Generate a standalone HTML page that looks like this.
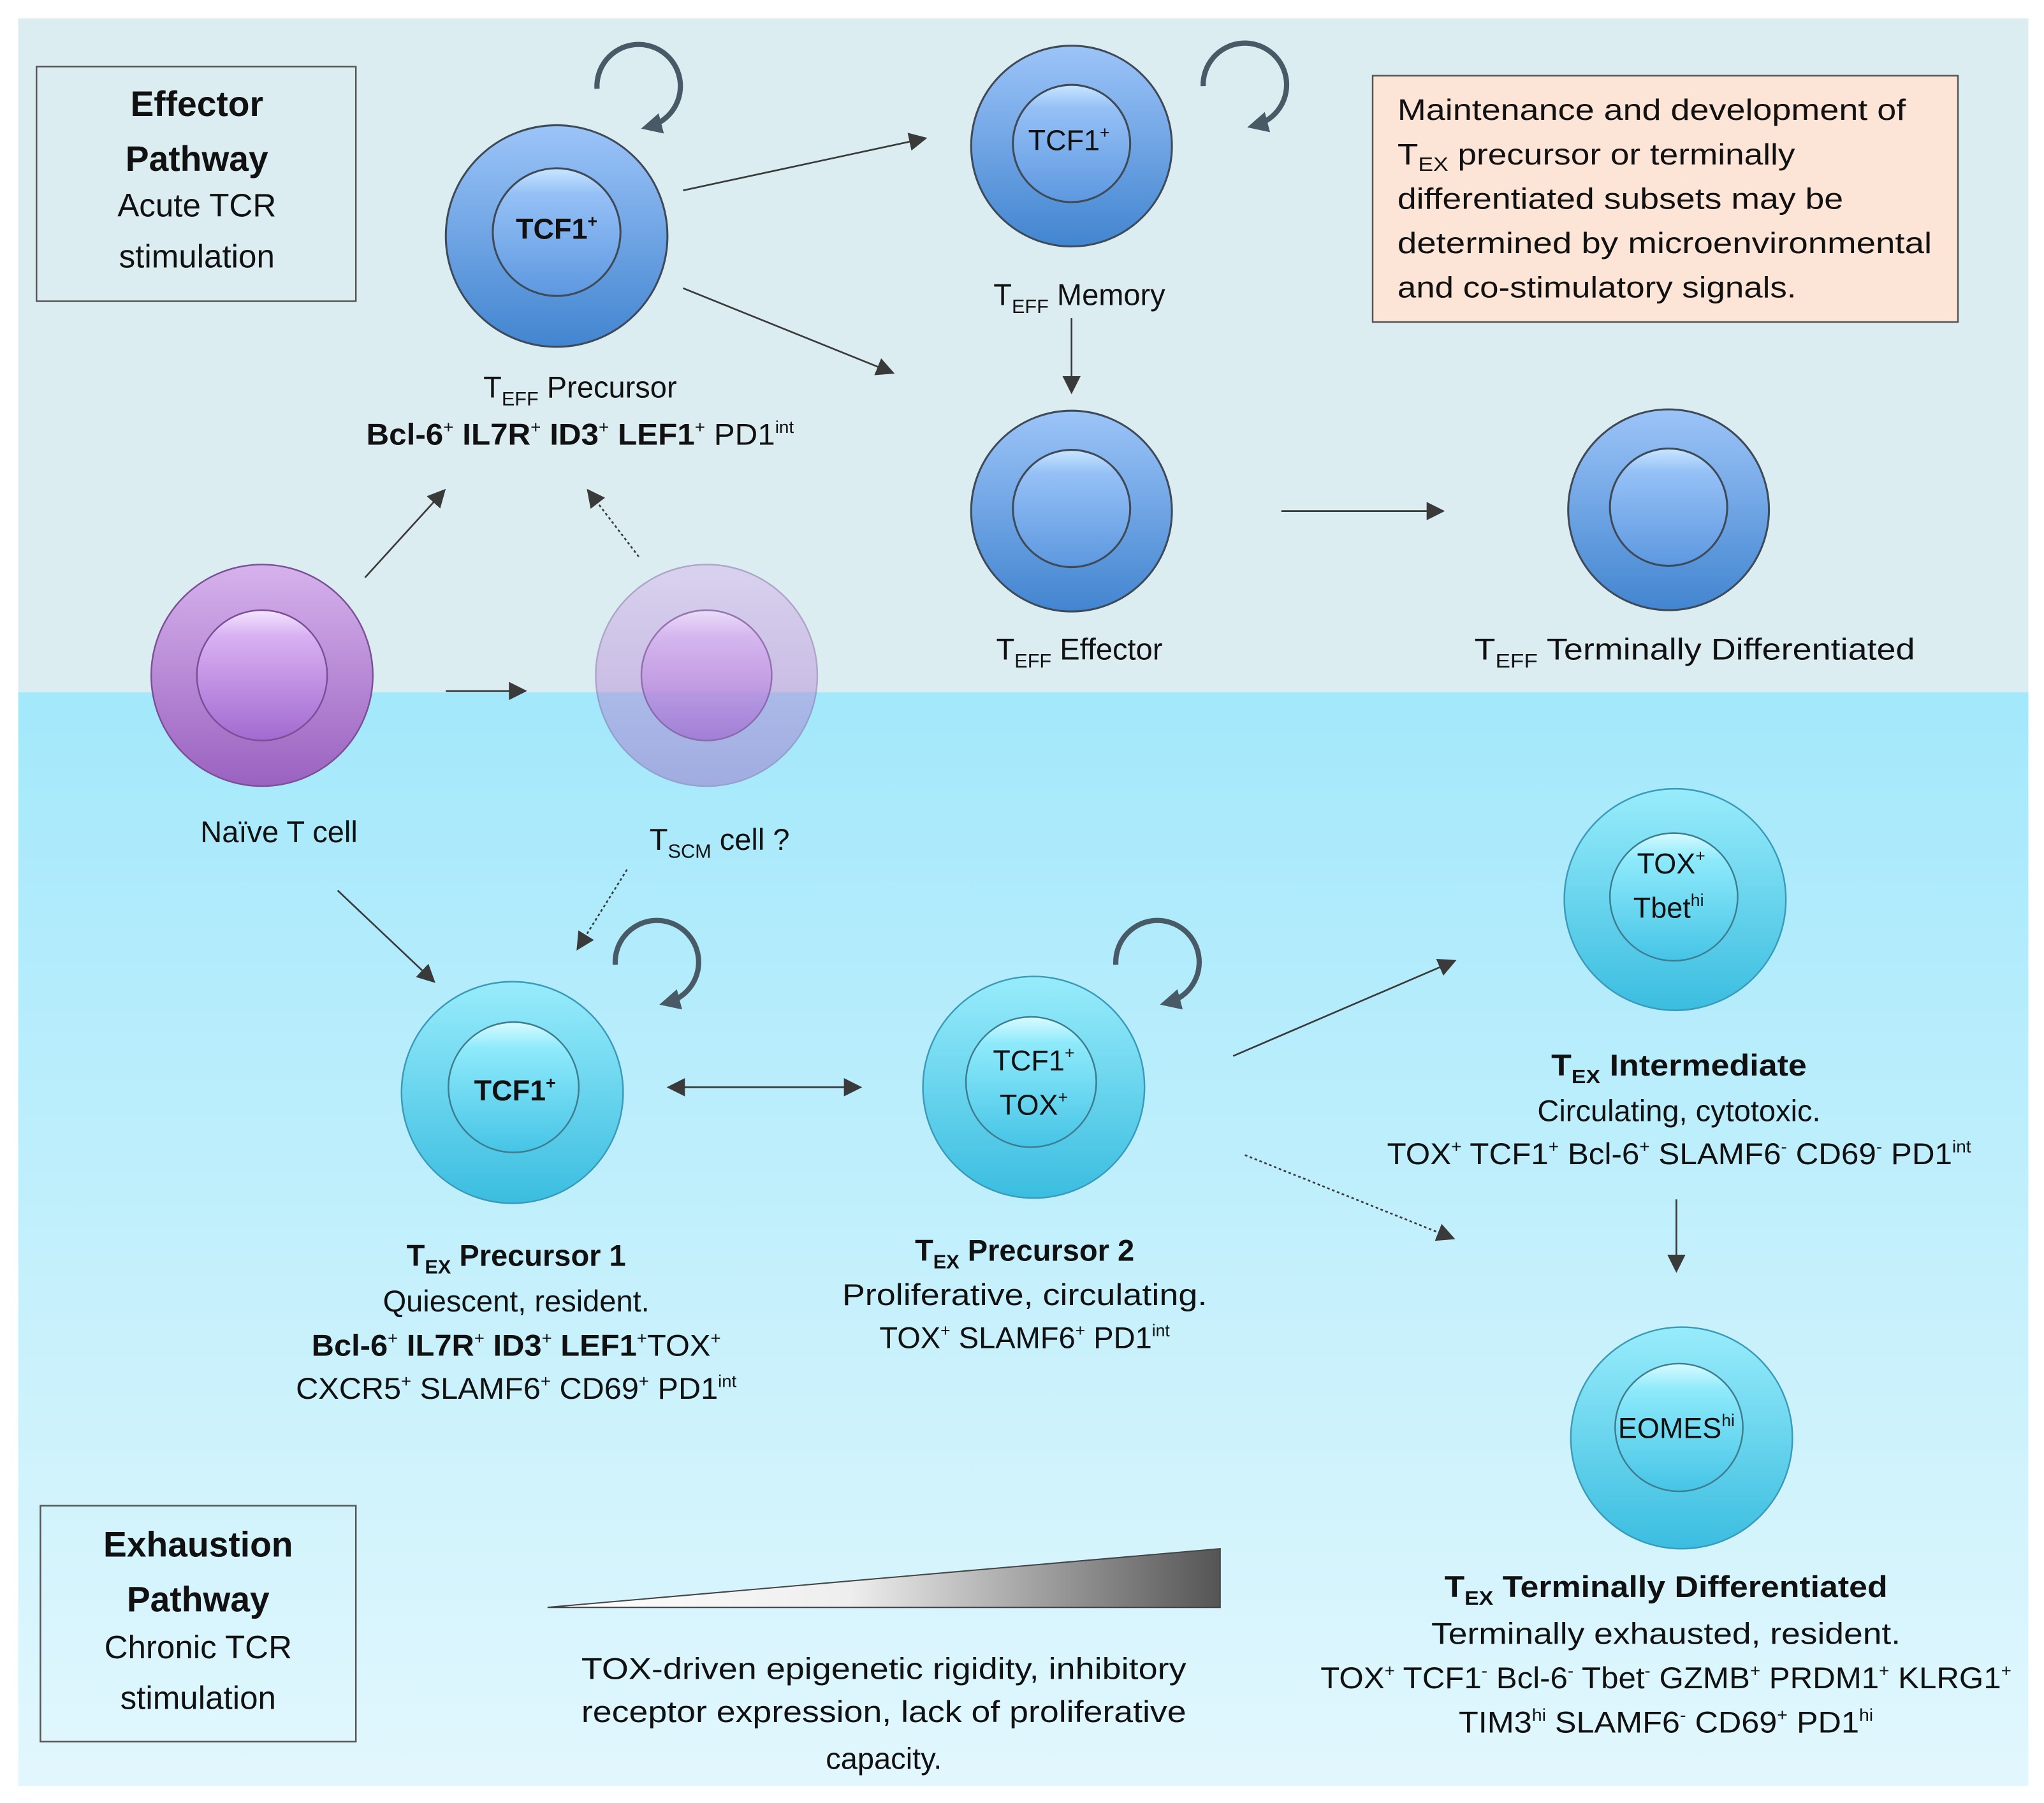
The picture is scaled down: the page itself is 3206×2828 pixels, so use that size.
<!DOCTYPE html>
<html><head><meta charset="utf-8"><style>
html,body{margin:0;padding:0;background:#fff}
svg{display:block}
text{font-family:"Liberation Sans",sans-serif;fill:#111}
</style></head><body>
<svg width="3206" height="2828" viewBox="0 0 1568 1383" xmlns="http://www.w3.org/2000/svg">
<defs>
<linearGradient id="bot" x1="0" y1="0" x2="0" y2="1"><stop offset="0" stop-color="#a3e8fb"/><stop offset="1" stop-color="#e2f7fd"/></linearGradient>
<linearGradient id="blueO" x1="0" y1="0" x2="0" y2="1"><stop offset="0" stop-color="#9cc4f8"/><stop offset="1" stop-color="#4285d0"/></linearGradient>
<linearGradient id="blueN" x1="0" y1="0" x2="0" y2="1"><stop offset="0" stop-color="#c8e6ff"/><stop offset="0.2" stop-color="#95c0f6"/><stop offset="1" stop-color="#5d98e0"/></linearGradient>
<linearGradient id="cyanO" x1="0" y1="0" x2="0" y2="1"><stop offset="0" stop-color="#98ecfb"/><stop offset="1" stop-color="#3bbde0"/></linearGradient>
<linearGradient id="cyanN" x1="0" y1="0" x2="0" y2="1"><stop offset="0" stop-color="#d8fbff"/><stop offset="0.2" stop-color="#8eeafb"/><stop offset="1" stop-color="#46c4e6"/></linearGradient>
<linearGradient id="purO" x1="0" y1="0" x2="0" y2="1"><stop offset="0" stop-color="#d6b2ec"/><stop offset="1" stop-color="#9a62c0"/></linearGradient>
<linearGradient id="purN" x1="0" y1="0" x2="0" y2="1"><stop offset="0" stop-color="#f4e6ff"/><stop offset="0.2" stop-color="#d8b0f2"/><stop offset="1" stop-color="#a26ad0"/></linearGradient>
<linearGradient id="wedge" x1="0" y1="0" x2="1" y2="0"><stop offset="0" stop-color="#fff"/><stop offset="0.45" stop-color="#eee"/><stop offset="1" stop-color="#555"/></linearGradient>
<marker id="ah" viewBox="0 0 10 10" refX="9" refY="5" markerWidth="14" markerHeight="14" markerUnits="userSpaceOnUse" orient="auto"><path d="M0,0 L10,5 L0,10 z" fill="#3a3a3a"/></marker>
<marker id="ahs" viewBox="0 0 10 10" refX="1" refY="5" markerWidth="14" markerHeight="14" markerUnits="userSpaceOnUse" orient="auto-start-reverse"><path d="M0,0 L10,5 L0,10 z" fill="#3a3a3a"/></marker>
<marker id="ahc" viewBox="0 0 10 10" refX="6" refY="5" markerWidth="16" markerHeight="16" markerUnits="userSpaceOnUse" orient="auto"><path d="M0,0 L10,5 L0,10 z" fill="#475a66"/></marker>
</defs>
<rect x="14" y="14" width="1542" height="517" fill="#dcedf2"/>
<rect x="14" y="531" width="1542" height="839" fill="url(#bot)"/>

<rect x="28" y="51" width="245" height="180" fill="none" stroke="#555" stroke-width="1.2"/>
<text x="151" y="89" font-size="27" font-weight="bold" text-anchor="middle">Effector</text>
<text x="151" y="131" font-size="27" font-weight="bold" text-anchor="middle">Pathway</text>
<text x="151" y="166" font-size="25" text-anchor="middle" fill="#222">Acute TCR</text>
<text x="151" y="205" font-size="25" text-anchor="middle" fill="#222">stimulation</text>

<rect x="31" y="1155" width="242" height="181" fill="none" stroke="#555" stroke-width="1.2"/>
<text x="152" y="1194" font-size="27" font-weight="bold" text-anchor="middle">Exhaustion</text>
<text x="152" y="1236" font-size="27" font-weight="bold" text-anchor="middle">Pathway</text>
<text x="152" y="1272" font-size="25" text-anchor="middle">Chronic TCR</text>
<text x="152" y="1311" font-size="25" text-anchor="middle">stimulation</text>

<rect x="1053" y="58" width="449" height="189" fill="#fce4d6" stroke="#555" stroke-width="1.2"/>
<g font-size="22.5">
<text x="1072" y="92" textLength="390" lengthAdjust="spacingAndGlyphs">Maintenance and development of</text>
<text x="1072" y="126" textLength="305" lengthAdjust="spacingAndGlyphs">T<tspan font-size="15" dy="5">EX</tspan><tspan dy="-5"> precursor or terminally</tspan></text>
<text x="1072" y="160" textLength="342" lengthAdjust="spacingAndGlyphs">differentiated subsets may be</text>
<text x="1072" y="194" textLength="410" lengthAdjust="spacingAndGlyphs">determined by microenvironmental</text>
<text x="1072" y="228" textLength="306" lengthAdjust="spacingAndGlyphs">and co-stimulatory signals.</text>
</g>

<g stroke="#3e4a57" stroke-width="1.5">
<circle cx="427" cy="181" r="85" fill="url(#blueO)"/>
<circle cx="427" cy="178" r="49" fill="url(#blueN)"/>
<circle cx="822" cy="112" r="77" fill="url(#blueO)"/>
<circle cx="822" cy="110" r="45" fill="url(#blueN)"/>
<circle cx="822" cy="392" r="77" fill="url(#blueO)"/>
<circle cx="822" cy="390" r="45" fill="url(#blueN)"/>
<circle cx="1280" cy="391" r="77" fill="url(#blueO)"/>
<circle cx="1280" cy="389" r="45" fill="url(#blueN)"/>
</g>
<g stroke="#7a4f96" stroke-width="1.2">
<circle cx="201" cy="518" r="85" fill="url(#purO)"/>
<circle cx="201" cy="518" r="50" fill="url(#purN)"/>
<circle cx="542" cy="518" r="85" fill="url(#purO)" opacity="0.45"/>
<circle cx="542" cy="518" r="50" fill="url(#purN)" opacity="0.7"/>
</g>
<g stroke="#3a9ab8" stroke-width="1.2">
<circle cx="393" cy="838" r="85" fill="url(#cyanO)"/>
<circle cx="394" cy="834" r="50" fill="url(#cyanN)" stroke="#3d7d8f"/>
<circle cx="793" cy="834" r="85" fill="url(#cyanO)"/>
<circle cx="791" cy="830" r="50" fill="url(#cyanN)" stroke="#3d7d8f"/>
<circle cx="1285" cy="690" r="85" fill="url(#cyanO)"/>
<circle cx="1284" cy="688" r="49" fill="url(#cyanN)" stroke="#3d7d8f"/>
<circle cx="1290" cy="1103" r="85" fill="url(#cyanO)"/>
<circle cx="1288" cy="1095" r="49" fill="url(#cyanN)" stroke="#3d7d8f"/>
</g>

<text x="427" y="183" font-size="22" font-weight="bold" text-anchor="middle">TCF1<tspan font-size="13" dy="-9">+</tspan></text>
<text x="820" y="115" font-size="22" text-anchor="middle">TCF1<tspan font-size="13" dy="-9">+</tspan></text>
<text x="395" y="844" font-size="22" font-weight="bold" text-anchor="middle">TCF1<tspan font-size="13" dy="-9">+</tspan></text>
<text x="793" y="821" font-size="22" text-anchor="middle">TCF1<tspan font-size="13" dy="-9">+</tspan></text>
<text x="793" y="855" font-size="22" text-anchor="middle">TOX<tspan font-size="13" dy="-9">+</tspan></text>
<text x="1282" y="670" font-size="22" text-anchor="middle">TOX<tspan font-size="13" dy="-9">+</tspan></text>
<text x="1280" y="704" font-size="22" text-anchor="middle">Tbet<tspan font-size="13" dy="-9">hi</tspan></text>
<text x="1286" y="1103" font-size="22" text-anchor="middle">EOMES<tspan font-size="13" dy="-9">hi</tspan></text>

<g font-size="23">
<text x="445" y="305" text-anchor="middle">T<tspan font-size="15" dy="6">EFF</tspan><tspan dy="-6"> Precursor</tspan></text>
<text x="445" y="341" text-anchor="middle" textLength="328" lengthAdjust="spacingAndGlyphs"><tspan font-weight="bold">Bcl-6</tspan><tspan font-size="13" dy="-9">+</tspan><tspan dy="9" font-weight="bold"> IL7R</tspan><tspan font-size="13" dy="-9">+</tspan><tspan dy="9" font-weight="bold"> ID3</tspan><tspan font-size="13" dy="-9">+</tspan><tspan dy="9" font-weight="bold"> LEF1</tspan><tspan font-size="13" dy="-9">+</tspan><tspan dy="9"> PD1</tspan><tspan font-size="13" dy="-9">int</tspan></text>
<text x="828" y="234" text-anchor="middle">T<tspan font-size="15" dy="6">EFF</tspan><tspan dy="-6"> Memory</tspan></text>
<text x="828" y="506" text-anchor="middle">T<tspan font-size="15" dy="6">EFF</tspan><tspan dy="-6"> Effector</tspan></text>
<text x="1300" y="506" text-anchor="middle" textLength="338" lengthAdjust="spacingAndGlyphs">T<tspan font-size="15" dy="6">EFF</tspan><tspan dy="-6"> Terminally Differentiated</tspan></text>
<text x="214" y="646" text-anchor="middle">Naïve T cell</text>
<text x="552" y="652" text-anchor="middle">T<tspan font-size="15" dy="6">SCM</tspan><tspan dy="-6"> cell ?</tspan></text>

<text x="396" y="971" text-anchor="middle" font-weight="bold">T<tspan font-size="15" dy="6">EX</tspan><tspan dy="-6"> Precursor 1</tspan></text>
<text x="396" y="1006" text-anchor="middle">Quiescent, resident.</text>
<text x="396" y="1040" text-anchor="middle" textLength="314" lengthAdjust="spacingAndGlyphs"><tspan font-weight="bold">Bcl-6</tspan><tspan font-size="13" dy="-9">+</tspan><tspan dy="9" font-weight="bold"> IL7R</tspan><tspan font-size="13" dy="-9">+</tspan><tspan dy="9" font-weight="bold"> ID3</tspan><tspan font-size="13" dy="-9">+</tspan><tspan dy="9" font-weight="bold"> LEF1</tspan><tspan font-size="13" dy="-9">+</tspan><tspan dy="9">TOX</tspan><tspan font-size="13" dy="-9">+</tspan></text>
<text x="396" y="1073" text-anchor="middle" textLength="338" lengthAdjust="spacingAndGlyphs">CXCR5<tspan font-size="13" dy="-9">+</tspan><tspan dy="9"> SLAMF6</tspan><tspan font-size="13" dy="-9">+</tspan><tspan dy="9"> CD69</tspan><tspan font-size="13" dy="-9">+</tspan><tspan dy="9"> PD1</tspan><tspan font-size="13" dy="-9">int</tspan></text>

<text x="786" y="967" text-anchor="middle" font-weight="bold">T<tspan font-size="15" dy="6">EX</tspan><tspan dy="-6"> Precursor 2</tspan></text>
<text x="786" y="1001" text-anchor="middle" textLength="280" lengthAdjust="spacingAndGlyphs">Proliferative, circulating.</text>
<text x="786" y="1034" text-anchor="middle">TOX<tspan font-size="13" dy="-9">+</tspan><tspan dy="9"> SLAMF6</tspan><tspan font-size="13" dy="-9">+</tspan><tspan dy="9"> PD1</tspan><tspan font-size="13" dy="-9">int</tspan></text>

<text x="1288" y="825" text-anchor="middle" font-weight="bold" textLength="196" lengthAdjust="spacingAndGlyphs">T<tspan font-size="15" dy="6">EX</tspan><tspan dy="-6"> Intermediate</tspan></text>
<text x="1288" y="860" text-anchor="middle">Circulating, cytotoxic.</text>
<text x="1288" y="893" text-anchor="middle" textLength="448" lengthAdjust="spacingAndGlyphs">TOX<tspan font-size="13" dy="-9">+</tspan><tspan dy="9"> TCF1</tspan><tspan font-size="13" dy="-9">+</tspan><tspan dy="9"> Bcl-6</tspan><tspan font-size="13" dy="-9">+</tspan><tspan dy="9"> SLAMF6</tspan><tspan font-size="13" dy="-9">-</tspan><tspan dy="9"> CD69</tspan><tspan font-size="13" dy="-9">-</tspan><tspan dy="9"> PD1</tspan><tspan font-size="13" dy="-9">int</tspan></text>

<text x="1278" y="1225" text-anchor="middle" font-weight="bold" textLength="340" lengthAdjust="spacingAndGlyphs">T<tspan font-size="15" dy="6">EX</tspan><tspan dy="-6"> Terminally Differentiated</tspan></text>
<text x="1278" y="1261" text-anchor="middle" textLength="360" lengthAdjust="spacingAndGlyphs">Terminally exhausted, resident.</text>
<text x="1278" y="1295" text-anchor="middle" textLength="530" lengthAdjust="spacingAndGlyphs">TOX<tspan font-size="13" dy="-9">+</tspan><tspan dy="9"> TCF1</tspan><tspan font-size="13" dy="-9">-</tspan><tspan dy="9"> Bcl-6</tspan><tspan font-size="13" dy="-9">-</tspan><tspan dy="9"> Tbet</tspan><tspan font-size="13" dy="-9">-</tspan><tspan dy="9"> GZMB</tspan><tspan font-size="13" dy="-9">+</tspan><tspan dy="9"> PRDM1</tspan><tspan font-size="13" dy="-9">+</tspan><tspan dy="9"> KLRG1</tspan><tspan font-size="13" dy="-9">+</tspan></text>
<text x="1278" y="1329" text-anchor="middle" textLength="318" lengthAdjust="spacingAndGlyphs">TIM3<tspan font-size="13" dy="-9">hi</tspan><tspan dy="9"> SLAMF6</tspan><tspan font-size="13" dy="-9">-</tspan><tspan dy="9"> CD69</tspan><tspan font-size="13" dy="-9">+</tspan><tspan dy="9"> PD1</tspan><tspan font-size="13" dy="-9">hi</tspan></text>

<text x="678" y="1288" text-anchor="middle" textLength="464" lengthAdjust="spacingAndGlyphs">TOX-driven epigenetic rigidity, inhibitory</text>
<text x="678" y="1321" text-anchor="middle" textLength="464" lengthAdjust="spacingAndGlyphs">receptor expression, lack of proliferative</text>
<text x="678" y="1357" text-anchor="middle">capacity.</text>
</g>

<polygon points="420,1233 936,1188 936,1233" fill="url(#wedge)" stroke="#444" stroke-width="1"/>

<g stroke="#3a3a3a" stroke-width="1.3" fill="none">
<line x1="524" y1="146" x2="710" y2="106" marker-end="url(#ah)"/>
<line x1="524" y1="221" x2="685" y2="286" marker-end="url(#ah)"/>
<line x1="822" y1="244" x2="822" y2="301" marker-end="url(#ah)"/>
<line x1="983" y1="392" x2="1107" y2="392" marker-end="url(#ah)"/>
<line x1="280" y1="443" x2="341" y2="376" marker-end="url(#ah)"/>
<line x1="490" y1="427" x2="451" y2="376" marker-end="url(#ah)" stroke-dasharray="2,2"/>
<line x1="342" y1="530" x2="403" y2="530" marker-end="url(#ah)"/>
<line x1="259" y1="683" x2="333" y2="753" marker-end="url(#ah)"/>
<line x1="481" y1="667" x2="443" y2="728" marker-end="url(#ah)" stroke-dasharray="2,2"/>
<line x1="524" y1="834" x2="660" y2="834" marker-start="url(#ahs)" marker-end="url(#ah)"/>
<line x1="946" y1="810" x2="1116" y2="737" marker-end="url(#ah)"/>
<line x1="955" y1="886" x2="1115" y2="950" marker-end="url(#ah)" stroke-dasharray="2,2"/>
<line x1="1286" y1="920" x2="1286" y2="975" marker-end="url(#ah)"/>
</g>

<g stroke="#475a66" stroke-width="4" fill="none">
<path d="M458,68 A32,32 0 1 1 498,97" marker-end="url(#ahc)"/>
<path d="M923,66 A32,32 0 1 1 963,96" marker-end="url(#ahc)"/>
<path d="M472,740 A32,32 0 1 1 512,769" marker-end="url(#ahc)"/>
<path d="M856,740 A32,32 0 1 1 896,769" marker-end="url(#ahc)"/>
</g>
</svg>
</body></html>
